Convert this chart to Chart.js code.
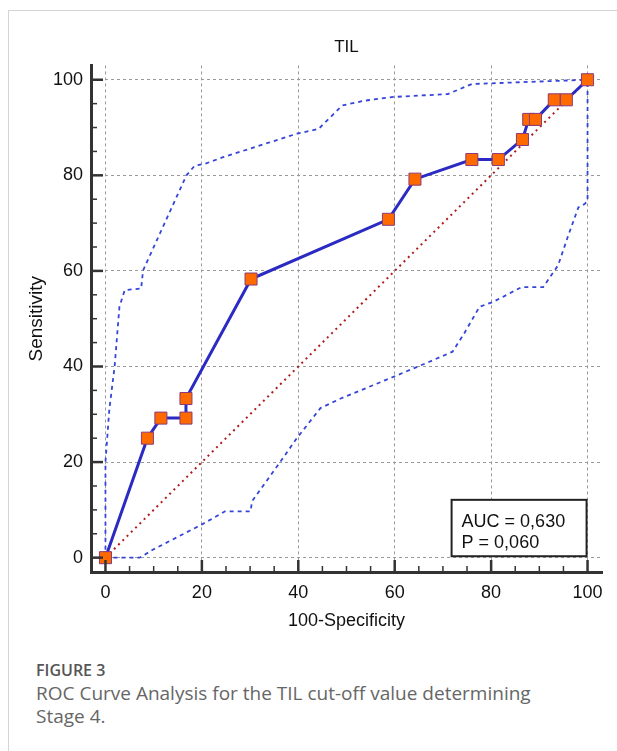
<!DOCTYPE html>
<html>
<head>
<meta charset="utf-8">
<script src="https://cdn.jsdelivr.net/npm/chart.js@4.4.0/dist/chart.umd.min.js"></script>
<style>
  body { margin: 0; background: #fff; width: 617px; height: 751px; overflow: hidden; position: relative; }
  .frame { position: absolute; left: 8px; top: 10px; width: 620px; height: 760px;
           border-top: 1px solid #d4d4d4; border-left: 1px solid #d4d4d4; }
  #wrap { position: absolute; left: 0; top: 0; width: 617px; height: 640px; }
  .cap { position: absolute; left: 36px; font-family: "Open Sans", "Noto Sans", sans-serif; color: #666; }
  .cap-title { top: 659px; font-size: 16px; font-weight: 600; color: #555; }
  .cap-text { top: 682px; font-size: 19px; line-height: 23px; width: 575px; }
</style>
</head>
<body>
<div class="frame"></div>
<div id="wrap"><canvas id="rocChart"></canvas></div>
<div class="cap cap-title">FIGURE 3</div>
<div class="cap cap-text">ROC Curve Analysis for the TIL cut-off value determining<br>Stage 4.</div>
<script>
// ROC curve points (100-Specificity, Sensitivity)
const rocX = [0, 8.7, 11.5, 16.7, 16.7, 30.2, 58.7, 64.2, 76, 81.5, 86.5, 87.8, 89.2, 93.1, 95.6, 100];
const rocY = [0, 25, 29.2, 29.2, 33.3, 58.3, 70.8, 79.2, 83.3, 83.3, 87.5, 91.7, 91.7, 95.8, 95.8, 100];

// 95% confidence bounds
const upperX = [0, 0, 0.8, 1.9, 2.9, 4, 7.4, 7.8, 16.8, 18.5, 20.6, 24.4, 39.7, 44.2, 49.1, 53.6, 59.8, 71, 76, 100];
const upperY = [0, 20, 31, 40, 52.5, 56, 56.3, 60.1, 80, 82, 82.4, 83.8, 88.7, 89.7, 94.6, 95.6, 96.4, 97, 99.1, 100];
const lowerX = [0, 7.1, 9.9, 19.9, 22.4, 24.8, 30.1, 30.4, 36.3, 39.7, 44.6, 48.8, 59.9, 67.2, 72, 74.4, 77.6, 80.4, 86.3, 90.8, 93.9, 96, 98.1, 99.4, 100, 100];
const lowerY = [0, 0, 1.7, 6.9, 8.3, 9.7, 9.7, 11.8, 20.1, 25, 31.3, 33.3, 37.9, 41, 43.1, 46.9, 52.5, 53.5, 56.6, 56.6, 61.2, 67.4, 73.3, 74, 74.7, 100];

// reference diagonal
const diagX = [0, 100];
const diagY = [0, 100];

const tickValues = [0, 20, 40, 60, 80, 100];
const aucText = ['AUC = 0,630', 'P = 0,060'];

const toPoints = (xs, ys) => xs.map((x, i) => ({ x: x, y: ys[i] }));
const FONT = '"Liberation Sans", Arial, sans-serif';

// inward minor/major tick marks on both axes
const innerTicks = {
    id: 'innerTicks',
    afterDatasetsDraw(chart) {
        const ctx = chart.ctx;
        const xs = chart.scales.x, ys = chart.scales.y;
        const area = chart.chartArea;
        ctx.save();
        ctx.strokeStyle = '#333';
        for (let v = 0; v <= 100; v += 5) {
            const major = v % 20 === 0;
            ctx.lineWidth = major ? 2.5 : 1.5;
            const len = major ? 12 : 6;
            const px = xs.getPixelForValue(v);
            ctx.beginPath();
            ctx.moveTo(px, area.bottom);
            ctx.lineTo(px, area.bottom - len);
            ctx.stroke();
            const py = ys.getPixelForValue(v);
            ctx.beginPath();
            ctx.moveTo(area.left, py);
            ctx.lineTo(area.left + len, py);
            ctx.stroke();
        }
        ctx.restore();
    }
};

// AUC / P value box in the lower right
const aucBox = {
    id: 'aucBox',
    afterDraw(chart) {
        const ctx = chart.ctx;
        const xs = chart.scales.x, ys = chart.scales.y;
        const left = xs.getPixelForValue(71.8), right = xs.getPixelForValue(99.8);
        const top = ys.getPixelForValue(12.1), bottom = ys.getPixelForValue(0.3);
        ctx.save();
        ctx.fillStyle = '#fff';
        ctx.fillRect(left, top, right - left, bottom - top);
        ctx.strokeStyle = '#222';
        ctx.lineWidth = 2;
        ctx.strokeRect(left, top, right - left, bottom - top);
        ctx.fillStyle = '#111';
        ctx.font = '18px ' + FONT;
        ctx.textBaseline = 'middle';
        ctx.fillText(aucText[0], left + 10, top + 22);
        ctx.fillText(aucText[1], left + 10, top + 43);
        ctx.restore();
    }
};

const axisCommon = {
    type: 'linear',
    min: -3,
    max: 103,
    afterBuildTicks: scale => { scale.ticks = tickValues.map(v => ({ value: v })); },
    grid: { color: '#9a9a9a', lineWidth: 1, drawTicks: false },
    border: { display: true, color: '#333', width: 3, dash: [3, 3] },
    ticks: { color: '#111', font: { family: FONT, size: 18 } }
};

const ctx = document.getElementById('rocChart').getContext('2d');
const rocChart = new Chart(ctx, {
    type: 'line',
    data: {
        datasets: [
            {
                label: 'ROC',
                data: toPoints(rocX, rocY),
                borderColor: '#2b2bc4',
                borderWidth: 3,
                pointStyle: 'rect',
                pointRadius: 8.5,
                pointBackgroundColor: '#ff6a00',
                pointBorderColor: '#8a3a7a',
                pointBorderWidth: 1,
                tension: 0
            },
            {
                label: 'Upper',
                data: toPoints(upperX, upperY),
                borderColor: '#3545d8',
                borderWidth: 1.8,
                borderDash: [4, 4],
                pointRadius: 0,
                tension: 0
            },
            {
                label: 'Lower',
                data: toPoints(lowerX, lowerY),
                borderColor: '#3545d8',
                borderWidth: 1.8,
                borderDash: [4, 4],
                pointRadius: 0,
                tension: 0
            },
            {
                label: 'Diagonal',
                data: toPoints(diagX, diagY),
                borderColor: '#b01c1c',
                borderWidth: 2,
                borderDash: [2, 4],
                pointRadius: 0,
                tension: 0
            }
        ]
    },
    options: {
        responsive: true,
        maintainAspectRatio: false,
        animation: false,
        layout: { padding: { left: 0, right: 15, top: 0, bottom: 0 } },
        scales: {
            x: {
                ...axisCommon,
                afterFit: scale => { scale.height = 68; },
                ticks: { ...axisCommon.ticks, padding: 10 },
                title: {
                    display: true,
                    text: '100-Specificity',
                    color: '#111',
                    font: { family: FONT, size: 18 },
                    padding: { top: 8, bottom: 8 }
                }
            },
            y: {
                ...axisCommon,
                afterFit: scale => { scale.width = 91; },
                ticks: { ...axisCommon.ticks, padding: 8 },
                title: {
                    display: true,
                    text: 'Sensitivity',
                    color: '#111',
                    font: { family: FONT, size: 19 },
                    padding: { top: 25, bottom: 25 }
                }
            }
        },
        plugins: {
            legend: { display: false },
            tooltip: { enabled: false },
            title: {
                display: true,
                text: 'TIL',
                fullSize: false,
                color: '#111',
                font: { family: FONT, size: 17, weight: 'normal' },
                padding: { top: 37, bottom: 8 }
            }
        }
    },
    plugins: [innerTicks, aucBox]
});
</script>
</body>
</html>
